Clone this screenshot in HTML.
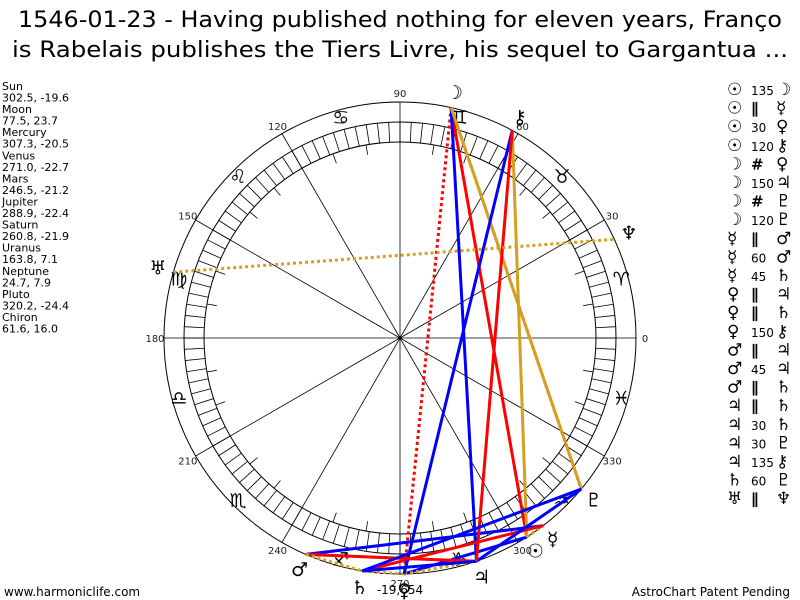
<!DOCTYPE html>
<html><head><meta charset="utf-8">
<style>
html,body{margin:0;padding:0;background:#fff;}
svg{display:block;font-family:"DejaVu Sans","Liberation Sans",sans-serif;}
</style></head>
<body>
<svg id="chart" width="800" height="600" viewBox="0 0 800 600" xmlns="http://www.w3.org/2000/svg">
<text x="400" y="27" font-size="22" text-anchor="middle" textLength="764" lengthAdjust="spacingAndGlyphs">1546-01-23 - Having published nothing for eleven years, Franço</text>
<text x="400" y="57" font-size="22" text-anchor="middle" textLength="776" lengthAdjust="spacingAndGlyphs">is Rabelais publishes the Tiers Livre, his sequel to Gargantua ...</text>
<text x="4" y="596" font-size="12">www.harmoniclife.com</text>
<text x="790" y="596" font-size="12" text-anchor="end">AstroChart Patent Pending</text>
<g id="wheel"></g>
<g id="aspects"></g>
<g id="glyphs"></g>
<g id="leftlist"></g>
<g id="rightlist"></g>
</svg>
<script>
const planetNames = ["Sun","Moon","Mercury","Venus","Mars","Jupiter","Saturn","Uranus","Neptune","Pluto","Chiron"];
const planetLon = [302.5,77.5,307.3,271.0,246.5,288.9,260.8,163.8,24.7,320.2,61.6];
const planetDecl = [-19.6,23.7,-20.5,-22.7,-21.2,-22.4,-21.9,7.1,7.9,-24.4,16.0];
const planetGlyphs = ["☉","☽","☿","♀","♂","♃","♄","♅","♆","♇","⚷"];
const signGlyphs = ["♈","♉","♊","♋","♌","♍","♎","♏","♐","♑","♒","♓"];
const degreeLabels = [0,30,60,90,120,150,180,210,240,270,300,330];
// aspects: [planetA, planetB, label]
const aspectA = [0,0,0,0,1,1,1,1,2,2,2,3,3,3,4,4,4,5,5,5,5,6,7];
const aspectB = [1,2,3,10,3,5,9,9,4,4,6,5,6,10,5,5,6,6,6,9,10,9,8];
const aspectType = ["135","||","30","120","##","150","##","120","||","60","45","||","||","150","||","45","||","||","30","30","135","60","||"];

const NS="http://www.w3.org/2000/svg";
const cx=400, cy=338, R=236, Rz1=216, Rz2=196, Rtick=186, Rg=252, Rs=229, Rl=245;
function mk(parent,tag,attrs){const e=document.createElementNS(NS,tag);for(const k in attrs)e.setAttribute(k,attrs[k]);parent.appendChild(e);return e;}
function px(deg,r){return cx+r*Math.cos(deg*Math.PI/180);}
function py(deg,r){return cy-r*Math.sin(deg*Math.PI/180);}

const wheel=document.getElementById('wheel');
let c=mk(wheel,'circle',{cx:cx,cy:cy,r:R,fill:'none',stroke:'#000','stroke-width':1});


c=mk(wheel,'circle',{cx:cx,cy:cy,r:Rz1,fill:'none',stroke:'#000','stroke-width':1});


c=mk(wheel,'circle',{cx:cx,cy:cy,r:Rz2,fill:'none',stroke:'#000','stroke-width':1});


for(let d=0;d<360;d+=3){
  const l=mk(wheel,'line',{x1:px(d,Rz2),y1:py(d,Rz2),x2:px(d,Rz1),y2:py(d,Rz1),stroke:'#000','stroke-width':0.8});
  
  
}
for(let d=0;d<360;d+=10){
  if(d%30===0) continue;
  const l=mk(wheel,'line',{x1:px(d,Rz2),y1:py(d,Rz2),x2:px(d,Rtick),y2:py(d,Rtick),stroke:'#000','stroke-width':0.8});
  
  
}
degreeLabels.forEach(d=>{
  const l=mk(wheel,'line',{x1:px(d,R),y1:py(d,R),x2:cx,y2:cy,stroke:'#000','stroke-width':0.8});
  
  
  const t=mk(wheel,'text',{x:px(d,Rl),y:py(d,Rl)+4,'font-size':10,'text-anchor':'middle',fill:'#222'});
  t.textContent=String(d);
  
  
});
signGlyphs.forEach((g,i)=>{
  const d=i*30+15;
  const t=mk(wheel,'text',{x:px(d,Rs),y:py(d,Rs)+7,'font-size':19,'text-anchor':'middle',fill:'#000'});
  t.textContent=g;
  
  
});

const asp=document.getElementById('aspects');
function styleFor(t){
  if(t==='||') return {stroke:'#d4a020','stroke-width':3,'stroke-dasharray':'3,3'};
  if(t==='##') return {stroke:'#ff0000','stroke-width':3,'stroke-dasharray':'3,3'};
  if(t==='135'||t==='45') return {stroke:'#ff0000','stroke-width':3};
  if(t==='120') return {stroke:'#d4a020','stroke-width':3};
  return {stroke:'#0000ff','stroke-width':3};
}
aspectA.forEach((a,i)=>{
  const b=aspectB[i];
  const s=styleFor(aspectType[i]);
  const attrs={x1:px(planetLon[a],R),y1:py(planetLon[a],R),x2:px(planetLon[b],R),y2:py(planetLon[b],R),fill:'none'};
  for(const k in s) attrs[k]=s[k];
  const l=mk(asp,'line',attrs);
  
  
});

const gl=document.getElementById('glyphs');
planetLon.forEach((lon,i)=>{
  const t=mk(gl,'text',{x:px(lon,Rg),y:py(lon,Rg)+7,'font-size':19,'text-anchor':'middle',fill:'#000'});
  t.textContent=planetGlyphs[i];
  
  
});
let t=mk(gl,'text',{x:400,y:594,'font-size':12,'text-anchor':'middle',fill:'#000'});
t.textContent='-19,654';



const ll=document.getElementById('leftlist');
planetNames.forEach((n,i)=>{
  let a=mk(ll,'text',{x:2,y:90+i*23.1,'font-size':11});
  a.textContent=n;
  
  
  let b=mk(ll,'text',{x:2,y:101.5+i*23.1,'font-size':11});
  b.textContent=planetLon[i].toFixed(1)+', '+planetDecl[i].toFixed(1);
  
  
});

const rl=document.getElementById('rightlist');
aspectA.forEach((a,i)=>{
  const y=95+i*18.6;
  let g1=mk(rl,'text',{x:727,y:y,'font-size':17,'font-weight':'bold'});
  g1.textContent=planetGlyphs[a];
  
  
  const typ=aspectType[i];
  let m=mk(rl,'text',{x:751,y:y,'font-size':(typ==='||'||typ==='##')?15:12,'font-weight':(typ==='||'||typ==='##')?'bold':'normal'});
  m.textContent=typ==='||'?'∥':(typ==='##'?'#':typ);
  
  
  let g2=mk(rl,'text',{x:776,y:y,'font-size':17});
  g2.textContent=planetGlyphs[aspectB[i]];
  
  
});
</script>
</body></html>
